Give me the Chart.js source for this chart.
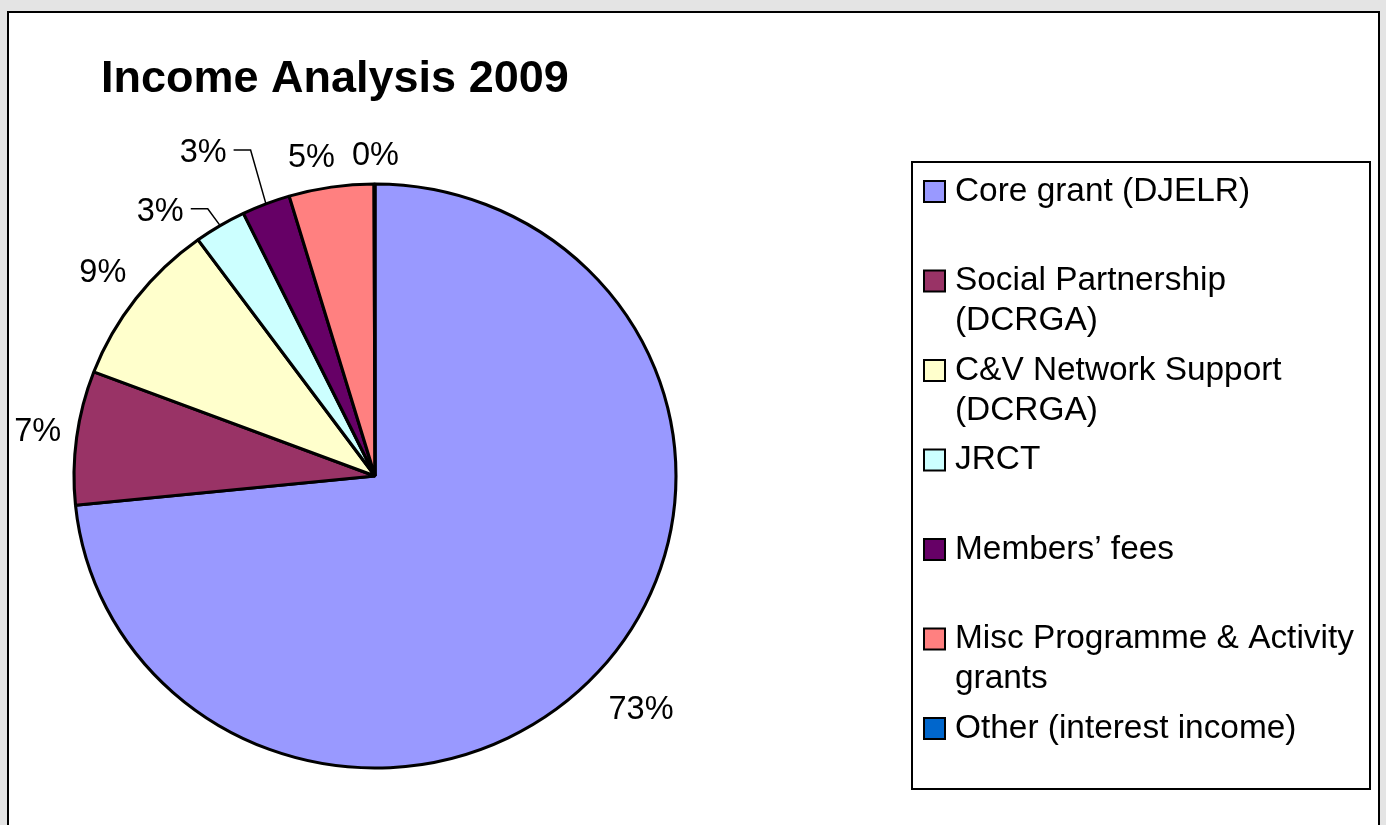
<!DOCTYPE html>
<html><head><meta charset="utf-8">
<script src="https://cdn.jsdelivr.net/npm/chart.js@4"></script>
<style>
html,body{margin:0;padding:0;}
body{width:1386px;height:825px;background:#e4e4e4;overflow:hidden;position:relative;}
#panel{position:absolute;left:7px;top:11px;width:1373px;height:900px;box-sizing:border-box;border:2px solid #000;background:#fff;}
#c{position:absolute;left:0;top:0;}
</style></head><body>
<div id="panel"></div>
<canvas id="c" width="1386" height="825"></canvas>
<script>
const chartTitle = 'Income Analysis 2009';
const categories = ['Core grant (DJELR)', 'Social Partnership (DCRGA)', 'C&V Network Support (DCRGA)', 'JRCT', 'Members\u2019 fees', 'Misc Programme & Activity grants', 'Other (interest income)'];
const shares = [73.4, 7.4, 9.2, 2.8, 2.6, 4.55, 0.05];
const sliceColors = ['#9999FF', '#993366', '#FFFFCC', '#CCFFFF', '#660066', '#FF8080', '#0066CC'];

const FONT = '"Liberation Sans", Arial, sans-serif';
const RADIUS = 292;
const SX = 301 / 292;           // slight horizontal stretch of the reference pie
const GAP = 14;
const leaders = {3: {dA: -7.4, r: 45}, 4: {dA: -6.2, r: 72}};
const labelNudge = {0: {dx: 7, dy: 6}, 5: {dx: -15, dy: 3}, 6: {dx: 1, dy: 1}};

const ellipsePlugin = {
  id: 'ellipse',
  beforeDatasetsDraw(chart) {
    const a = chart.getDatasetMeta(0).data[0];
    const ctx = chart.ctx;
    ctx.save();
    ctx.translate(a.x, a.y); ctx.scale(SX, 1); ctx.translate(-a.x, -a.y);
  },
  afterDatasetsDraw(chart) { chart.ctx.restore(); }
};

const labelPlugin = {
  id: 'pctLabels',
  afterDraw(chart) {
    const ctx = chart.ctx;
    const meta = chart.getDatasetMeta(0);
    const total = shares.reduce((a, b) => a + b, 0);
    ctx.save();
    ctx.font = '32.5px ' + FONT;
    ctx.fillStyle = '#000';
    ctx.strokeStyle = '#000';
    ctx.textAlign = 'center';
    ctx.textBaseline = 'middle';
    meta.data.forEach((arc, i) => {
      const p = arc.getProps(['x', 'y', 'startAngle', 'endAngle', 'outerRadius'], true);
      const mid = (p.startAngle + p.endAngle) / 2;
      const c = Math.cos(mid), s = Math.sin(mid);
      const rx = p.outerRadius * SX, ry = p.outerRadius;
      const ex = p.x + rx * c, ey = p.y + ry * s;
      const txt = Math.round(shares[i] / total * 100) + '%';
      const w = ctx.measureText(txt).width, h = 30;
      const lead = leaders[i];
      if (!lead) {
        const d = GAP + Math.abs(c) * w / 2 + Math.abs(s) * h / 2;
        const n = labelNudge[i] || {dx: 0, dy: 0};
        ctx.fillText(txt, ex + c * d + n.dx, ey + s * d + n.dy);
      } else {
        const a2 = mid + lead.dA * Math.PI / 180;
        const lx = p.x + (rx + lead.r) * Math.cos(a2);
        const ly = p.y + (ry + lead.r) * Math.sin(a2);
        ctx.fillText(txt, lx, ly);
        const x0 = lx + w / 2 + 7, yy = ly - 3;
        ctx.beginPath();
        ctx.lineWidth = 1.5;
        ctx.moveTo(x0, yy); ctx.lineTo(x0 + 17, yy); ctx.lineTo(ex, ey);
        ctx.stroke();
      }
    });
    // title
    ctx.textAlign = 'left';
    ctx.textBaseline = 'alphabetic';
    ctx.font = 'bold 45px ' + FONT;
    ctx.fillText(chartTitle, 101, 92);
    ctx.restore();
  }
};

function wrap(ctx, text, maxW) {
  const words = text.split(' ');
  const lines = [];
  let cur = '';
  words.forEach(wd => {
    const t = cur ? cur + ' ' + wd : wd;
    if (ctx.measureText(t).width > maxW && cur) { lines.push(cur); cur = wd; }
    else cur = t;
  });
  if (cur) lines.push(cur);
  return lines;
}

const legendPlugin = {
  id: 'boxLegend',
  afterDraw(chart) {
    const ctx = chart.ctx;
    const box = {l: 912, t: 162, r: 1370, b: 789};
    ctx.save();
    ctx.strokeStyle = '#000';
    ctx.lineWidth = 2;
    ctx.strokeRect(box.l, box.t, box.r - box.l, box.b - box.t);
    ctx.font = '33.4px ' + FONT;
    ctx.textAlign = 'left';
    ctx.textBaseline = 'middle';
    const ds = chart.data.datasets[0];
    chart.data.labels.forEach((lab, i) => {
      const y0 = box.t + 29.5 + i * 89.5;
      ctx.fillStyle = ds.backgroundColor[i];
      ctx.fillRect(924, y0 - 10.5, 21, 21);
      ctx.lineWidth = 2;
      ctx.strokeRect(924, y0 - 10.5, 21, 21);
      ctx.fillStyle = '#000';
      wrap(ctx, lab, 410).forEach((ln, j) => ctx.fillText(ln, 955, y0 + j * 40));
    });
    ctx.restore();
  }
};

new Chart(document.getElementById('c'), {
  type: 'pie',
  data: {
    labels: categories,
    datasets: [{data: shares, backgroundColor: sliceColors, borderColor: '#000', borderWidth: 3}]
  },
  options: {
    responsive: false,
    animation: false,
    events: [],
    radius: RADIUS,
    layout: {padding: {left: 40, right: 676, top: 150, bottom: 23}},
    plugins: {legend: {display: false}, title: {display: false}, tooltip: {enabled: false}}
  },
  plugins: [ellipsePlugin, labelPlugin, legendPlugin]
});
</script>
</body></html>
